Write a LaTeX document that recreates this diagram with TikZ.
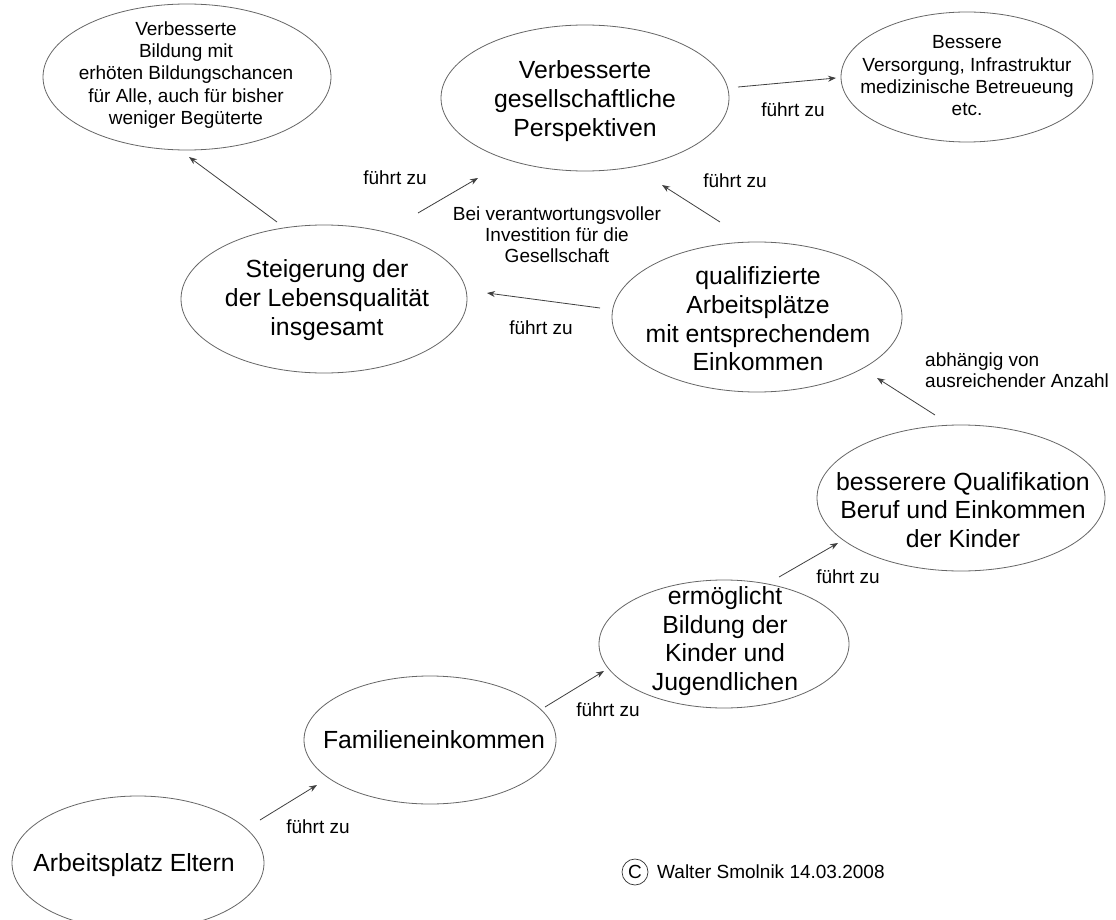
\documentclass[tikz,border=0pt]{standalone}
\usepackage{fontspec}
\setmainfont{Liberation Sans}
\usetikzlibrary{shapes.geometric,arrows.meta,calc}
\begin{document}
\begin{tikzpicture}[x=1pt,y=-1pt,
  oval/.style={ellipse,draw=black!60,line width=0.8pt,inner sep=0pt},
  bigtext/.style={align=center,font=\fontsize{24.8}{28.6}\selectfont,inner sep=0pt},
  smalltext/.style={align=center,font=\fontsize{19}{22.3}\selectfont,inner sep=0pt},
  lbl/.style={align=center,font=\fontsize{19}{21}\selectfont,inner sep=0pt},
  arr/.style={draw=black!75,line width=0.8pt,-{Stealth[length=8pt,width=6pt]}}]
\useasboundingbox (0,0) rectangle (1116,920);
\fill[white] (0,0) rectangle (1116,920);

% ellipses
\node[oval,minimum width=288pt,minimum height=146pt] (e1) at (187,77) {};
\node[oval,minimum width=288pt,minimum height=146pt] (e2) at (585,98) {};
\node[oval,minimum width=252pt,minimum height=130pt] (e3) at (967,77) {};
\node[oval,minimum width=286pt,minimum height=148pt] (e4) at (324,299) {};
\node[oval,minimum width=290pt,minimum height=150pt] (e5) at (757,317) {};
\node[oval,minimum width=288pt,minimum height=146pt] (e6) at (961,498) {};
\node[oval,minimum width=250pt,minimum height=128pt] (e7) at (724,644) {};
\node[oval,minimum width=252pt,minimum height=128pt] (e8) at (430,740) {};
\node[oval,minimum width=252pt,minimum height=134pt] (e9) at (138,863) {};

% texts inside
\node[smalltext] (t1) at (186,75) {Verbesserte\\Bildung mit\\erhöten Bildungschancen\\für Alle, auch für bisher\\weniger Begüterte};
\node[bigtext] (t2) at (585,101) {Verbesserte\\gesellschaftliche\\Perspektiven};
\node[smalltext] (t3) at (967,76) {Bessere\\Versorgung, Infrastruktur\\medizinische Betreueung\\etc.};
\node[bigtext] (t4) at (327,300) {Steigerung der\\der Lebensqualität\\insgesamt};
\node[bigtext] (t5) at (758,319) {qualifizierte\\Arbeitsplätze\\mit entsprechendem\\Einkommen};
\node[bigtext] (t6) at (963,510) {besserere Qualifikation\\Beruf und Einkommen\\der Kinder};
\node[bigtext] (t7) at (725,641) {ermöglicht\\Bildung der\\Kinder und\\Jugendlichen};
\node[bigtext] (t8) at (434,740) {Familieneinkommen};
\node[bigtext] (t9) at (134,865) {Arbeitsplatz Eltern};

% connectors
\draw[arr] ($(e4)+(-47,-77)$) -- ($(e1)+(2,80)$);
\draw[arr] ($(e4)+(94,-86)$) -- ($(e2)+(-107,80)$);
\draw[arr] ($(e2)+(153,-11)$) -- ($(e3)+(-131,1)$);
\draw[arr] ($(e5)+(-37,-95)$) -- ($(e2)+(77,87)$);
\draw[arr] ($(e5)+(-157,-9)$) -- ($(e4)+(163,-6)$);
\draw[arr] ($(e6)+(-26,-83)$) -- ($(e5)+(120,61)$);
\draw[arr] ($(e7)+(55,-67)$) -- ($(e6)+(-123,45)$);
\draw[arr] ($(e8)+(115,-33)$) -- ($(e7)+(-120,27)$);
\draw[arr] ($(e9)+(122,-43)$) -- ($(e8)+(-113,45)$);

% labels
\node[lbl] (l1) at (395,178) {führt zu};
\node[lbl] (l2) at (557,235) {Bei verantwortungsvoller\\Investition für die\\Gesellschaft};
\node[lbl] (l3) at (793,110) {führt zu};
\node[lbl] (l4) at (735,181) {führt zu};
\node[lbl] (l5) at (541,328) {führt zu};
\node[lbl,align=left,anchor=west] (l6) at (925,370) {abhängig von\\ausreichender Anzahl};
\node[lbl] (l7) at (848,577) {führt zu};
\node[lbl] (l8) at (608,710) {führt zu};
\node[lbl] (l9) at (318,827) {führt zu};

% copyright
\node[circle,draw=black!80,line width=0.7pt,minimum size=26pt,inner sep=0pt,font=\fontsize{19}{21}\selectfont] (cr) at (635,872) {C};
\node[lbl,anchor=west] (cw) at (657,872) {Walter Smolnik 14.03.2008};
\end{tikzpicture}
\end{document}
